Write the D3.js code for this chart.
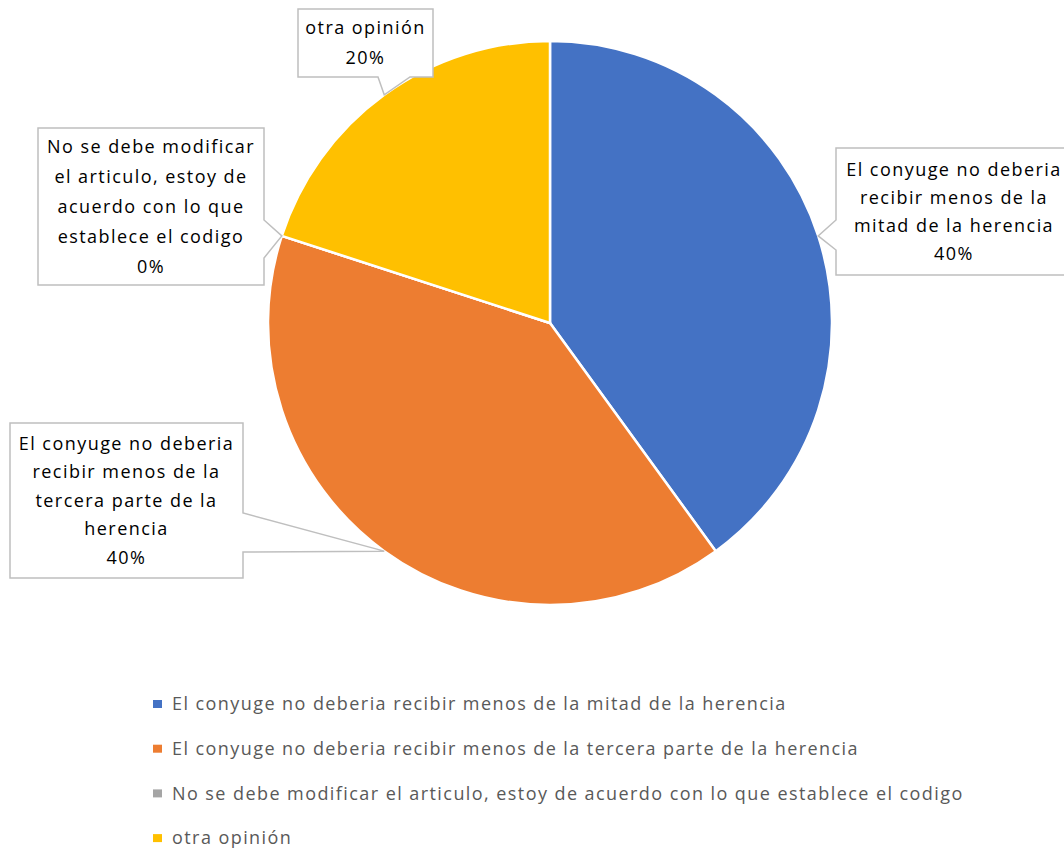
<!DOCTYPE html>
<html>
  <head>
    <meta charset="utf-8">
    <title>Pie chart</title>
    <script src="https://d3js.org/d3.v7.min.js"></script>
    <style>
      body { margin: 0; background: #fff; }
      text { font-family: "Open Sans", Lato, sans-serif; }
      .label { font-size: 18px; fill: #000; letter-spacing: 1.45px; }
      .legendText { font-size: 18px; fill: #595959; letter-spacing: 1.43px; }
      .box { fill: #fff; stroke: #bfbfbf; stroke-width: 1.5; }
    </style>
  </head>
  <body>
    <svg id="chart" width="1064" height="851"></svg>
    <script>
      // data
      const categories = [
        "El conyuge no deberia recibir menos de la mitad de la herencia",
        "El conyuge no deberia recibir menos de la tercera parte de la herencia",
        "No se debe modificar el articulo, estoy de acuerdo con lo que establece el codigo",
        "otra opinión"
      ];
      const values = [40, 40, 0, 20];
      const percentLabels = ["40%", "40%", "0%", "20%"];
      const labelLines = [
        ["El conyuge no deberia", "recibir menos de la", "mitad de la herencia"],
        ["El conyuge no deberia", "recibir menos de la", "tercera parte de la", "herencia"],
        ["No se debe modificar", "el articulo, estoy de", "acuerdo con lo que", "establece el codigo"],
        ["otra opinión"]
      ];
      const colours = ["#4472C4", "#ED7D31", "#A5A5A5", "#FFC000"];

      // callout boxes (layout)
      const boxes = [
        { x: 836, y: 148, w: 240, h: 127, side: "left", t0: 220, t1: 250, lh: 28 },
        { x: 10, y: 423, w: 233, h: 155, side: "right", t0: 513, t1: 552, lh: 28.5 },
        { x: 38, y: 128, w: 226, h: 157, side: "right", t0: 220, t1: 258, lh: 30 },
        { x: 298, y: 9, w: 135, h: 68, side: "bottom", t0: 378, t1: 410, lh: 30 }
      ];

      const chart = d3.select("#chart");
      const cx = 550, cy = 323, radius = 282;

      const pie = d3.pie().sort(null).value(function(d) { return d; });
      const arc = d3.arc().innerRadius(0).outerRadius(radius);
      const arcs = pie(values);

      const pieGroup = chart.append("g")
        .attr("transform", "translate(" + cx + "," + cy + ")");
      pieGroup.selectAll(".slice")
        .data(arcs)
        .enter().append("path")
          .classed("slice", true)
          .attr("d", arc)
          .style("fill", function(d, i) { return colours[i]; })
          .style("stroke", "#fff")
          .style("stroke-width", 2.5)
          .style("stroke-linejoin", "round");

      // callouts
      const callouts = chart.append("g");
      arcs.forEach(function(d, i) {
        let mid = (d.startAngle + d.endAngle) / 2;
        let tip = [cx + radius * Math.sin(mid), cy - radius * Math.cos(mid)];
        let b = boxes[i];
        let pts;
        if (b.side === "left") {
          pts = [[b.x, b.y], [b.x + b.w, b.y], [b.x + b.w, b.y + b.h], [b.x, b.y + b.h],
            [b.x, b.t1], tip, [b.x, b.t0]];
        } else if (b.side === "right") {
          pts = [[b.x, b.y], [b.x + b.w, b.y], [b.x + b.w, b.t0], tip, [b.x + b.w, b.t1],
            [b.x + b.w, b.y + b.h], [b.x, b.y + b.h]];
        } else {
          pts = [[b.x, b.y], [b.x + b.w, b.y], [b.x + b.w, b.y + b.h], [b.t1, b.y + b.h],
            tip, [b.t0, b.y + b.h], [b.x, b.y + b.h]];
        }
        callouts.append("path")
          .classed("box", true)
          .attr("d", d3.line()(pts) + "Z");
        let lines = labelLines[i].concat([percentLabels[i]]);
        let centre = b.y + b.h / 2;
        let textX = b.x + b.w / 2;
        if (b.side === "left") textX = b.x + 118;
        lines.forEach(function(line, j) {
          callouts.append("text")
            .classed("label", true)
            .attr("x", textX)
            .attr("y", centre + (j - (lines.length - 1) / 2) * b.lh)
            .attr("dy", "0.35em")
            .attr("text-anchor", "middle")
            .text(line);
        });
      });

      // legend
      const legend = chart.append("g")
        .attr("transform", "translate(153, 704)");
      const rows = legend.selectAll(".row")
        .data(categories)
        .enter().append("g")
          .attr("transform", function(d, i) { return "translate(0," + (i * 44.7) + ")"; });
      rows.append("rect")
        .attr("x", 0)
        .attr("y", -4)
        .attr("width", 9)
        .attr("height", 8)
        .style("fill", function(d, i) { return colours[i]; });
      rows.append("text")
        .classed("legendText", true)
        .attr("x", 19)
        .attr("dy", "0.35em")
        .text(function(d) { return d; });
    </script>
  </body>
</html>
